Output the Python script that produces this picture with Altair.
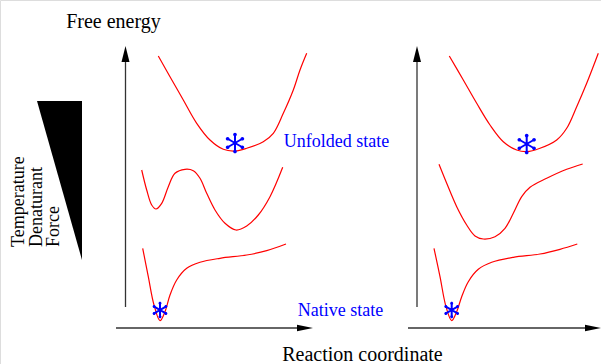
import altair as alt
import pandas as pd

W, H = 601, 364

# ---- curves (reaction coordinate, free energy), figure units, y grows downward ----
left_top_x = [158.3, 170, 183.3, 196.7, 210, 223.3, 235, 246.7, 263.3, 273.3, 283.3, 293.3, 300, 306.7]
left_top_y = [56, 76.7, 100, 123.3, 140, 149.3, 151, 148.3, 141.7, 133.3, 113.3, 90, 70, 53.3]

left_mid_x = [141.7, 146.7, 151.7, 156, 161.7, 168.3, 175, 185, 193.3, 200, 206.7, 215, 225, 236, 246.7, 258.3, 270, 282.7]
left_mid_y = [170, 190, 205, 209, 203.3, 186.7, 173.3, 169.3, 170.7, 178.3, 193.3, 210, 223.3, 230, 226, 215, 196.7, 167.3]

left_bot_x = [142.7, 148.3, 154, 160, 165, 170, 176.7, 186.7, 200, 220, 246.7, 266.7, 286]
left_bot_y = [248.3, 276.7, 305, 320.7, 311.7, 295, 280, 268.3, 262.3, 258.3, 255, 250.7, 244]

right_top_x = [449.3, 463.3, 476.7, 490, 503.3, 516.7, 526.7, 540, 556.7, 566.7, 576.7, 586.7, 598.3]
right_top_y = [56, 80, 103.3, 125, 141.7, 150, 151.7, 148.3, 140, 128.3, 106.7, 83.3, 53.3]

right_mid_x = [439, 446.7, 456.7, 466.7, 475, 483.3, 495, 505, 513.3, 521.7, 530, 546.7, 566.7, 582.7]
right_mid_y = [164.3, 183.3, 206.7, 225, 236, 239, 236.7, 228.3, 213.3, 196.7, 187.3, 178.3, 169.3, 164]

right_bot_x = [434, 440, 446, 451.7, 456.7, 461.7, 468.3, 478.3, 491.7, 513.3, 540, 560, 577.3]
right_bot_y = [248.3, 276.7, 306.7, 320.7, 311.7, 296.7, 281.7, 269.3, 262.3, 257.3, 254, 249.3, 244]

# ---- state markers ----
unfolded_x = [235, 526.7]
unfolded_y = [143, 144]
native_x = [160, 451.7]
native_y = [310, 310]

# ---- axes (lines and arrow heads) ----
vaxis_x = [125.5, 417]
vaxis_y0 = [307, 307]
vaxis_y1 = [56, 56]
haxis_y = [328, 328]
haxis_x0 = [116, 408]
haxis_x1 = [303, 590]
uparrow_x = [125.5, 417]
uparrow_y = [54, 54]
rightarrow_x = [305, 593]
rightarrow_y = [328, 328]

# ---- wedge ----
wedge_x = [37, 82]
wedge_top = [101, 101]
wedge_bottom = [101, 260]

# ---- texts ----
black_labels = ["Free energy", "Reaction coordinate"]
black_x = [113.5, 362.5]
black_y = [28, 361]
blue_labels = ["Unfolded state", "Native state"]
blue_x = [336.5, 340.5]
blue_y = [147, 316]
side_labels = ["Temperature", "Denaturant", "Force"]
side_x = [24, 41.5, 59]
side_y = [247, 247, 247]

FONT = "Liberation Serif"

xs = alt.Scale(domain=[0, W], nice=False, zero=False)
ys = alt.Scale(domain=[H, 0], nice=False, zero=False)

rows = []
for name, cx, cy in [("lt", left_top_x, left_top_y), ("lm", left_mid_x, left_mid_y),
                     ("lb", left_bot_x, left_bot_y), ("rt", right_top_x, right_top_y),
                     ("rm", right_mid_x, right_mid_y), ("rb", right_bot_x, right_bot_y)]:
    for i, (a, b) in enumerate(zip(cx, cy)):
        rows.append({"curve": name, "i": i, "x": a, "y": b})
curves_df = pd.DataFrame(rows)

curves = alt.Chart(curves_df).mark_line(
    color="#ff0000", strokeWidth=1.2, interpolate="catmull-rom"
).encode(
    x=alt.X("x:Q", scale=xs, axis=None),
    y=alt.Y("y:Q", scale=ys, axis=None),
    detail="curve:N",
    order="i:Q",
)

vlines = alt.Chart(pd.DataFrame({"x": vaxis_x, "y": vaxis_y0, "y2": vaxis_y1})).mark_rule(
    color="#333333", strokeWidth=1.3
).encode(x=alt.X("x:Q", scale=xs, axis=None), y=alt.Y("y:Q", scale=ys, axis=None), y2="y2:Q")

hlines = alt.Chart(pd.DataFrame({"y": haxis_y, "x": haxis_x0, "x2": haxis_x1})).mark_rule(
    color="#333333", strokeWidth=1.3
).encode(x=alt.X("x:Q", scale=xs, axis=None), x2="x2:Q", y=alt.Y("y:Q", scale=ys, axis=None))

UP = "M0,-1L0.5,1L-0.5,1Z"
RIGHT = "M1,0L-1,-0.42L-1,0.42Z"

uparrows = alt.Chart(pd.DataFrame({"x": uparrow_x, "y": uparrow_y})).mark_point(
    shape=UP, filled=True, color="black", size=256, opacity=1, strokeWidth=0
).encode(x=alt.X("x:Q", scale=xs, axis=None), y=alt.Y("y:Q", scale=ys, axis=None))

rightarrows = alt.Chart(pd.DataFrame({"x": rightarrow_x, "y": rightarrow_y})).mark_point(
    shape=RIGHT, filled=True, color="black", size=256, opacity=1, strokeWidth=0
).encode(x=alt.X("x:Q", scale=xs, axis=None), y=alt.Y("y:Q", scale=ys, axis=None))

wedge = alt.Chart(pd.DataFrame({"x": wedge_x, "y": wedge_top, "y2": wedge_bottom})).mark_area(
    color="black", opacity=1
).encode(x=alt.X("x:Q", scale=xs, axis=None), y=alt.Y("y:Q", scale=ys, axis=None), y2="y2:Q")

# asterisk shapes
STAR_LINES = "M0,-1L0,1M-0.866,-0.5L0.866,0.5M-0.866,0.5L0.866,-0.5"
r = 0.22
pts = [(0, -1), (0, 1), (-0.866, -0.5), (0.866, 0.5), (-0.866, 0.5), (0.866, -0.5)]
STAR_DOTS = "".join(
    f"M{x + r:.3f},{y:.3f}A{r},{r},0,1,0,{x - r:.3f},{y:.3f}A{r},{r},0,1,0,{x + r:.3f},{y:.3f}Z"
    for x, y in pts
)


def star_layers(px, py, size):
    df = pd.DataFrame({"x": px, "y": py})
    enc = dict(x=alt.X("x:Q", scale=xs, axis=None), y=alt.Y("y:Q", scale=ys, axis=None))
    a = alt.Chart(df).mark_point(shape=STAR_LINES, filled=False, color="#0000ff",
                                 size=size, opacity=1, strokeWidth=2).encode(**enc)
    b = alt.Chart(df).mark_point(shape=STAR_DOTS, filled=True, color="#0000ff",
                                 size=size, opacity=1, strokeWidth=0).encode(**enc)
    return [a, b]


stars = star_layers(unfolded_x, unfolded_y, 289) + star_layers(native_x, native_y, 185)

black_text = alt.Chart(pd.DataFrame({"t": black_labels, "x": black_x, "y": black_y})).mark_text(
    font=FONT, fontSize=20, color="black", align="center", baseline="alphabetic"
).encode(x=alt.X("x:Q", scale=xs, axis=None), y=alt.Y("y:Q", scale=ys, axis=None), text="t:N")

blue_text = alt.Chart(pd.DataFrame({"t": blue_labels, "x": blue_x, "y": blue_y})).mark_text(
    font=FONT, fontSize=18, color="#0000ff", align="center", baseline="alphabetic"
).encode(x=alt.X("x:Q", scale=xs, axis=None), y=alt.Y("y:Q", scale=ys, axis=None), text="t:N")

side_text = alt.Chart(pd.DataFrame({"t": side_labels, "x": side_x, "y": side_y})).mark_text(
    font=FONT, fontSize=18, color="black", align="left", baseline="alphabetic", angle=270
).encode(x=alt.X("x:Q", scale=xs, axis=None), y=alt.Y("y:Q", scale=ys, axis=None), text="t:N")

chart = alt.layer(
    wedge, vlines, hlines, uparrows, rightarrows, curves, *stars, black_text, blue_text, side_text
).properties(
    width=W, height=H, padding=0, autosize=alt.AutoSizeParams(type="none")
).configure_view(stroke=None).configure(background="white")

chart.save("out.html", embed_options={"renderer": "svg", "actions": False})
